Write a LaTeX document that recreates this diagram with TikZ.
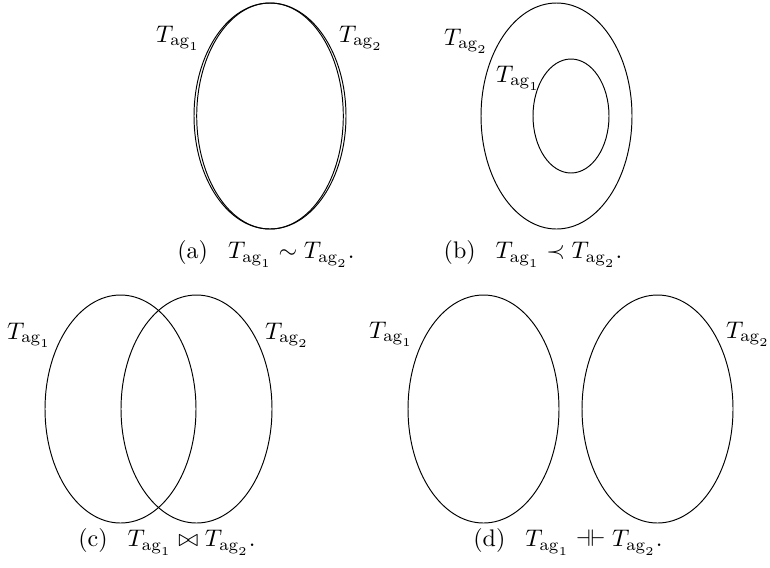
\documentclass[tikz,border=0pt]{standalone}
\usepackage{amsmath,amssymb}
\usetikzlibrary{positioning}
\begin{document}
\begin{tikzpicture}[x=0.4167pt,y=-0.4167pt,
  lbl/.style={inner sep=0pt,anchor=base},
  capt/.style={inner sep=0pt},
  e/.style={draw,line width=0.4pt}]
  \useasboundingbox (0,0) rectangle (770,567);
  \draw[e] (270,116) ellipse [x radius=76,y radius=113];\draw[e] (270,116) ellipse [x radius=73.3,y radius=113];
  \node[lbl] (a1) at (178,42) {$T_{\mathrm{ag}_1}$};\node[lbl] (a2) at (361,42) {$T_{\mathrm{ag}_2}$};
  \node[capt] (capa) at (266,254) {(a)\enspace\ $T_{\mathrm{ag}_1}\sim T_{\mathrm{ag}_2}$.};
  \draw[e] (556.5,116) ellipse [x radius=75.5,y radius=113];\draw[e] (571,116) ellipse [x radius=38,y radius=57];
  \node[lbl] (b2) at (466,45) {$T_{\mathrm{ag}_2}$};\node[lbl] (b1) at (518,82) {$T_{\mathrm{ag}_1}$};
  \node[capt] (capb) at (533,254) {(b)\enspace\ $T_{\mathrm{ag}_1}\prec T_{\mathrm{ag}_2}$.};
  \draw[e] (120.5,409) ellipse [x radius=75.5,y radius=114];\draw[e] (196.5,409) ellipse [x radius=75.5,y radius=114];
  \node[lbl] (c1) at (29,339) {$T_{\mathrm{ag}_1}$};\node[lbl] (c2) at (287,339) {$T_{\mathrm{ag}_2}$};
  \node[capt] (capc) at (167,542) {(c)\enspace\ $T_{\mathrm{ag}_1}\bowtie T_{\mathrm{ag}_2}$.};
  \draw[e] (483.5,409) ellipse [x radius=75.5,y radius=114];\draw[e] (657.5,409) ellipse [x radius=75.5,y radius=114];
  \node[lbl] (d1) at (391,338) {$T_{\mathrm{ag}_1}$};\node[lbl] (d2) at (748,338) {$T_{\mathrm{ag}_2}$};
  \node[capt] (capd) at (568,542) {(d)\enspace\ $T_{\mathrm{ag}_1}\dashv\vdash T_{\mathrm{ag}_2}$.};
\end{tikzpicture}
\end{document}
